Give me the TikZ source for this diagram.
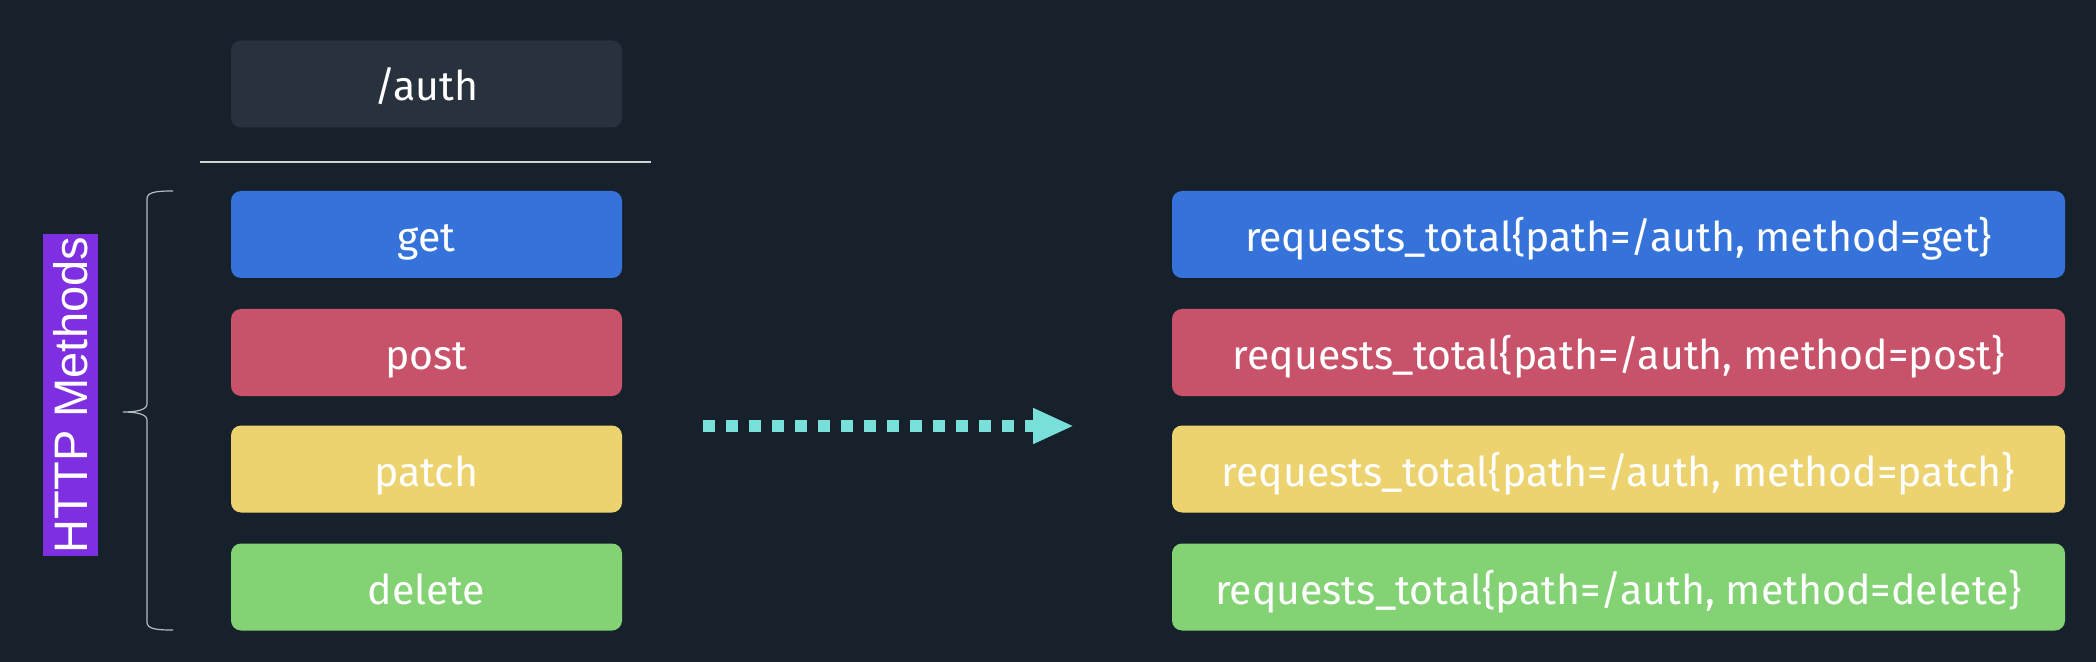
\documentclass[tikz,border=0pt]{standalone}
\usepackage{fontspec}
\setmainfont{Fira Sans}
\newfontfamily\labelfont{Liberation Sans}
\usetikzlibrary{arrows.meta}
\definecolor{bg}{HTML}{17212B}
\definecolor{authc}{HTML}{28323F}
\definecolor{getc}{HTML}{3573DB}
\definecolor{postc}{HTML}{C8526A}
\definecolor{patchc}{HTML}{ECD36F}
\definecolor{deletec}{HTML}{83D375}
\definecolor{purplec}{HTML}{7E2FE1}
\definecolor{cyanc}{HTML}{79DFD9}
\definecolor{linec}{HTML}{D0D4D8}
\definecolor{bracec}{HTML}{B8BCC0}
\tikzset{
  box/.style={rounded corners=5pt, inner sep=0pt, text=white,
    font=\fontsize{20.5}{24}\selectfont, text height=18pt, text depth=1pt,
    minimum height=43.5pt},
  leftbox/.style={box, minimum width=195.5pt},
  rightbox/.style={box, minimum width=446.5pt},
  flowarrow/.style={cyanc, line width=6pt, line cap=butt,
    dash pattern=on 6pt off 5.5pt, -{Triangle[length=20.5pt,width=16.5pt]}},
}
\begin{document}
\begin{tikzpicture}[x=0.5pt,y=-0.5pt]
\fill[bg] (0,0) rectangle (2096,662);
\useasboundingbox (0,0) rectangle (2096,662);

\node[leftbox, fill=authc] (auth) at (426.5,84) {/auth};
\node[leftbox, fill=getc] (get) at (426.5,234.5) {get};
\node[leftbox, fill=postc] (post) at (426.5,352.5) {post};
\node[leftbox, fill=patchc] (patch) at (426.5,469) {patch};
\node[leftbox, fill=deletec] (delete) at (426.5,587) {delete};

\node[rightbox, fill=getc] (rget) at (1618.5,234.5) {requests\_total\{path=/auth, method=get\}};
\node[rightbox, fill=postc] (rpost) at (1618.5,352.5) {requests\_total\{path=/auth, method=post\}};
\node[rightbox, fill=patchc] (rpatch) at (1618.5,469) {requests\_total\{path=/auth, method=patch\}};
\node[rightbox, fill=deletec] (rdelete) at (1618.5,587) {requests\_total\{path=/auth, method=delete\}};

\coordinate (sepl) at (200,162);
\coordinate (sepr) at (651,162);
\draw[linec, line width=1pt] (sepl) -- (sepr);

\node[fill=purplec, text=white, rotate=90, inner sep=0pt,
  minimum width=160.5pt, minimum height=27.5pt,
  font=\labelfont\fontsize{23.5}{26}\selectfont, text height=17pt, text depth=0pt]
  (http) at (70.5,395) {HTTP Methods};

\draw[bracec, line width=0.6pt] (173,191) .. controls (156,191) and (147,192) .. (147,199)
  -- (147,404) .. controls (147,410) and (136,412) .. (123,412)
  .. controls (136,412) and (147,414) .. (147,420)
  -- (147,622) .. controls (147,629) and (156,630) .. (173,630);

\coordinate (arrowstart) at (703,426);
\coordinate (arrowend) at (1074,426);
\draw[flowarrow] (arrowstart) -- (arrowend);
\end{tikzpicture}
\end{document}
